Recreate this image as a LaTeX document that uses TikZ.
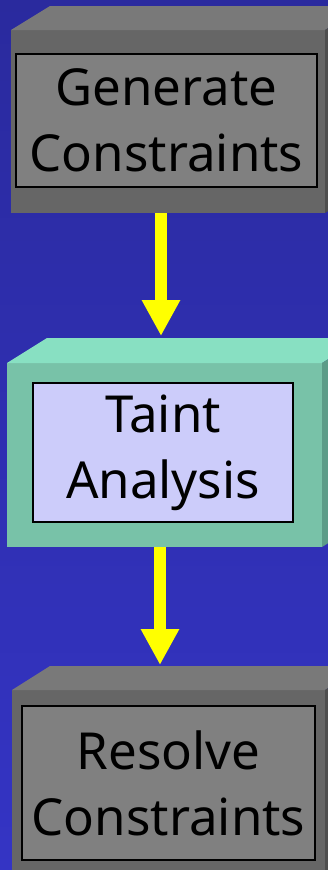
\documentclass[tikz,border=0pt]{standalone}
\usepackage{fontspec}
\setmainfont{Noto Sans}
\usetikzlibrary{positioning,arrows.meta}
\definecolor{bgtop}{HTML}{2A2A9E}
\definecolor{bgbot}{HTML}{3434C4}
\definecolor{grayfront}{HTML}{666666}
\definecolor{graytop}{HTML}{797979}
\definecolor{grayside}{HTML}{4E4E4E}
\definecolor{grayinner}{HTML}{808080}
\definecolor{mintfront}{HTML}{78C2A8}
\definecolor{minttop}{HTML}{88E0C2}
\definecolor{mintside}{HTML}{5C9C88}
\definecolor{lavender}{HTML}{CCCCFA}
\definecolor{flowyellow}{HTML}{FFFF00}

\begin{document}
\begin{tikzpicture}[x=1pt,y=-1pt,
  front/.style={minimum width=314pt,minimum height=183pt,inner sep=0pt,outer sep=0pt},
  label/.style={draw=black,line width=1.2pt,inner sep=0pt,outer sep=0pt,text=black,
    align=center,font=\fontsize{51}{66}\selectfont},
  flow/.style={draw=flowyellow,line width=12pt,-{Triangle[width=36pt,length=36pt]}}]
\useasboundingbox (0,0) rectangle (328,870);
\clip (0,0) rectangle (328,870);
\shade[top color=bgtop,bottom color=bgbot] (0,0) rectangle (328,870);

% first stage
\node[front,fill=grayfront] (genbox) at (168,121.5) {};
\fill[graytop] (genbox.north west) -- ++(39,-24) -- ([shift={(39,-24)}]genbox.north east) -- (genbox.north east) -- cycle;
\fill[grayside] (genbox.north east) -- ++(39,-24) -- ([shift={(39,-24)}]genbox.south east) -- (genbox.south east) -- cycle;
\node[label,fill=grayinner,minimum width=301pt,minimum height=133pt] (gen) at (166.5,120.5) {Generate\\Constraints};

% second stage
\node[front,fill=mintfront,minimum width=315pt,minimum height=184pt] (taintbox) at (164.5,455) {};
\fill[minttop] (taintbox.north west) -- ++(40,-25) -- ([shift={(40,-25)}]taintbox.north east) -- (taintbox.north east) -- cycle;
\fill[mintside] (taintbox.north east) -- ++(40,-25) -- ([shift={(40,-25)}]taintbox.south east) -- (taintbox.south east) -- cycle;
\node[label,fill=lavender,minimum width=260pt,minimum height=139pt] (taint) at (163,452.5) {Taint\\Analysis};

% third stage
\node[front,fill=grayfront,minimum width=313pt] (resbox) at (168.5,781.5) {};
\fill[graytop] (resbox.north west) -- ++(38,-24) -- ([shift={(38,-24)}]resbox.north east) -- (resbox.north east) -- cycle;
\fill[grayside] (resbox.north east) -- ++(38,-24) -- ([shift={(38,-24)}]resbox.south east) -- (resbox.south east) -- cycle;
\node[label,fill=grayinner,minimum width=293pt,minimum height=154pt] (res) at (168.5,783) {Resolve\\Constraints};

% arrows
\coordinate (taintTop) at (161,336);
\coordinate (resTop) at (160,665);
\draw[flow] (genbox.south -| taintTop) -- (taintTop);
\draw[flow] (taintbox.south -| resTop) -- (resTop);
\end{tikzpicture}
\end{document}
